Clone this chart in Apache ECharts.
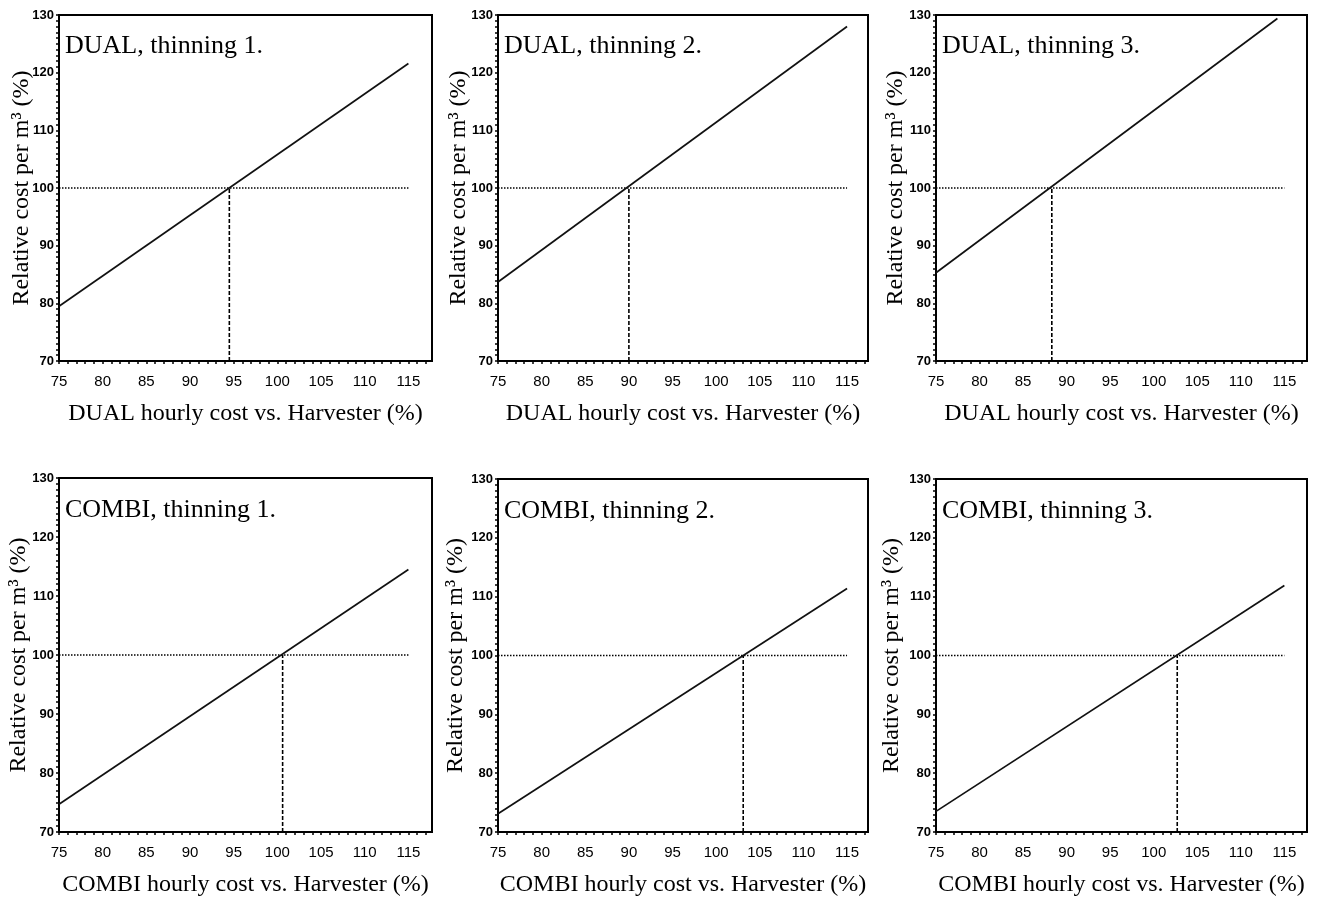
<!DOCTYPE html>
<html>
<head>
<meta charset="utf-8">
<script src="https://cdn.jsdelivr.net/npm/echarts@6/dist/echarts.min.js"></script>
<style>
html,body{margin:0;padding:0;background:#fff;}
#chart{width:1317px;height:898px;}
</style>
</head>
<body>
<div id="chart"></div>
<script>
// ---- data ----
const panelTitles = ['DUAL, thinning 1.', 'DUAL, thinning 2.', 'DUAL, thinning 3.',
                     'COMBI, thinning 1.', 'COMBI, thinning 2.', 'COMBI, thinning 3.'];
const xAxisNames = ['DUAL hourly cost vs. Harvester (%)', 'DUAL hourly cost vs. Harvester (%)', 'DUAL hourly cost vs. Harvester (%)',
                    'COMBI hourly cost vs. Harvester (%)', 'COMBI hourly cost vs. Harvester (%)', 'COMBI hourly cost vs. Harvester (%)'];
const yAxisName = 'Relative cost per m³ (%)';
const xTickLabels = [75, 80, 85, 90, 95, 100, 105, 110, 115];
const yTickLabels = [70, 80, 90, 100, 110, 120, 130];
const xAxisMax = [117.7, 117.4, 117.6, 117.7, 117.4, 117.6];
// cost line end points per panel
const lineStartX = [75, 75, 75, 75, 75, 75];
const lineStartY = [79.5, 83.7, 85.3, 74.7, 73.1, 73.5];
const lineEndX   = [115, 115, 114.2, 115, 115, 115];
const lineEndY   = [121.6, 128.0, 129.4, 114.5, 111.4, 111.9];
// break-even hourly cost (where relative cost = 100)
const breakEvenX = [94.5, 90.0, 88.3, 100.6, 103.1, 102.7];
const refLevel = 100;
const refStartX = 75;
const refEndX = 115;

// ---- layout ----
const grids = [
  {left: 59,  top: 15,  width: 373, height: 346, yNameGap: 25},
  {left: 498, top: 15,  width: 370, height: 346, yNameGap: 27},
  {left: 936, top: 15,  width: 371, height: 346, yNameGap: 28},
  {left: 59,  top: 478, width: 373, height: 355, yNameGap: 28},
  {left: 498, top: 479, width: 370, height: 354, yNameGap: 30},
  {left: 936, top: 479, width: 371, height: 354, yNameGap: 32}
];

const serif = "'Liberation Serif', 'Times New Roman', serif";
const tickFont = "'Liberation Sans Narrow', 'Arial Narrow', 'Liberation Sans', sans-serif";
const xMin = xTickLabels[0];
const yMin = yTickLabels[0], yMax = yTickLabels[yTickLabels.length - 1];

const option = {
  animation: false,
  backgroundColor: '#fff',
  title: [], grid: [], xAxis: [], yAxis: [], series: []
};

grids.forEach((g, i) => {
  option.grid.push({left: g.left, top: g.top, width: g.width, height: g.height,
    show: true, borderColor: '#000', borderWidth: 2, backgroundColor: 'transparent', containLabel: false});
  option.title.push({
    text: panelTitles[i], left: g.left + 6, top: g.top + (i < 3 ? 18 : 19), padding: 0,
    textStyle: {fontFamily: serif, fontSize: 26, fontWeight: 'normal', color: '#000'}
  });
  option.xAxis.push({
    type: 'value', gridIndex: i, min: xMin, max: xAxisMax[i], interval: 1,
    name: xAxisNames[i], nameLocation: 'middle', nameGap: 41, nameMoveOverlap: false,
    nameTextStyle: {fontFamily: serif, fontSize: 24, color: '#000'},
    axisLine: {show: true, onZero: false, lineStyle: {color: '#000', width: 2}},
    axisTick: {show: true, inside: false, length: 3, lineStyle: {color: '#000', width: 1.5}},
    splitLine: {show: false},
    axisLabel: {
      show: true, margin: 13, color: '#000', fontFamily: tickFont, fontSize: 15,
      showMaxLabel: false,
      formatter: v => (xTickLabels.indexOf(v) >= 0 ? String(v) : '')
    }
  });
  option.yAxis.push({
    type: 'value', gridIndex: i, min: yMin, max: yMax, interval: 1,
    name: yAxisName, nameLocation: 'middle', nameGap: g.yNameGap, nameRotate: 90, nameMoveOverlap: false,
    nameTextStyle: {fontFamily: serif, fontSize: 24, color: '#000'},
    axisLine: {show: true, onZero: false, lineStyle: {color: '#000', width: 2}},
    axisTick: {show: true, inside: false, length: 3, lineStyle: {color: '#000', width: 1.5}},
    splitLine: {show: false},
    axisLabel: {
      show: true, margin: 5, color: '#000', fontFamily: tickFont, fontSize: 13, fontWeight: 'bold',
      formatter: v => (yTickLabels.indexOf(v) >= 0 ? String(v) : '')
    }
  });
  // reference dotted line at 100
  option.series.push({
    type: 'line', xAxisIndex: i, yAxisIndex: i, symbol: 'none', silent: true,
    data: [[refStartX, refLevel], [refEndX, refLevel]],
    lineStyle: {color: '#000', width: 1.5, type: [1.5, 1.5]}
  });
  // vertical dashed line at break-even
  option.series.push({
    type: 'line', xAxisIndex: i, yAxisIndex: i, symbol: 'none', silent: true,
    data: [[breakEvenX[i], yMin], [breakEvenX[i], refLevel]],
    lineStyle: {color: '#000', width: 1.6, type: [4, 2]}
  });
  // cost line
  option.series.push({
    type: 'line', xAxisIndex: i, yAxisIndex: i, symbol: 'none', silent: true,
    data: [[lineStartX[i], lineStartY[i]], [lineEndX[i], lineEndY[i]]],
    lineStyle: {color: '#111', width: 1.7, type: 'solid'}
  });
});

const chart = echarts.init(document.getElementById('chart'), null, {renderer: 'canvas'});
chart.setOption(option);
</script>
</body>
</html>
